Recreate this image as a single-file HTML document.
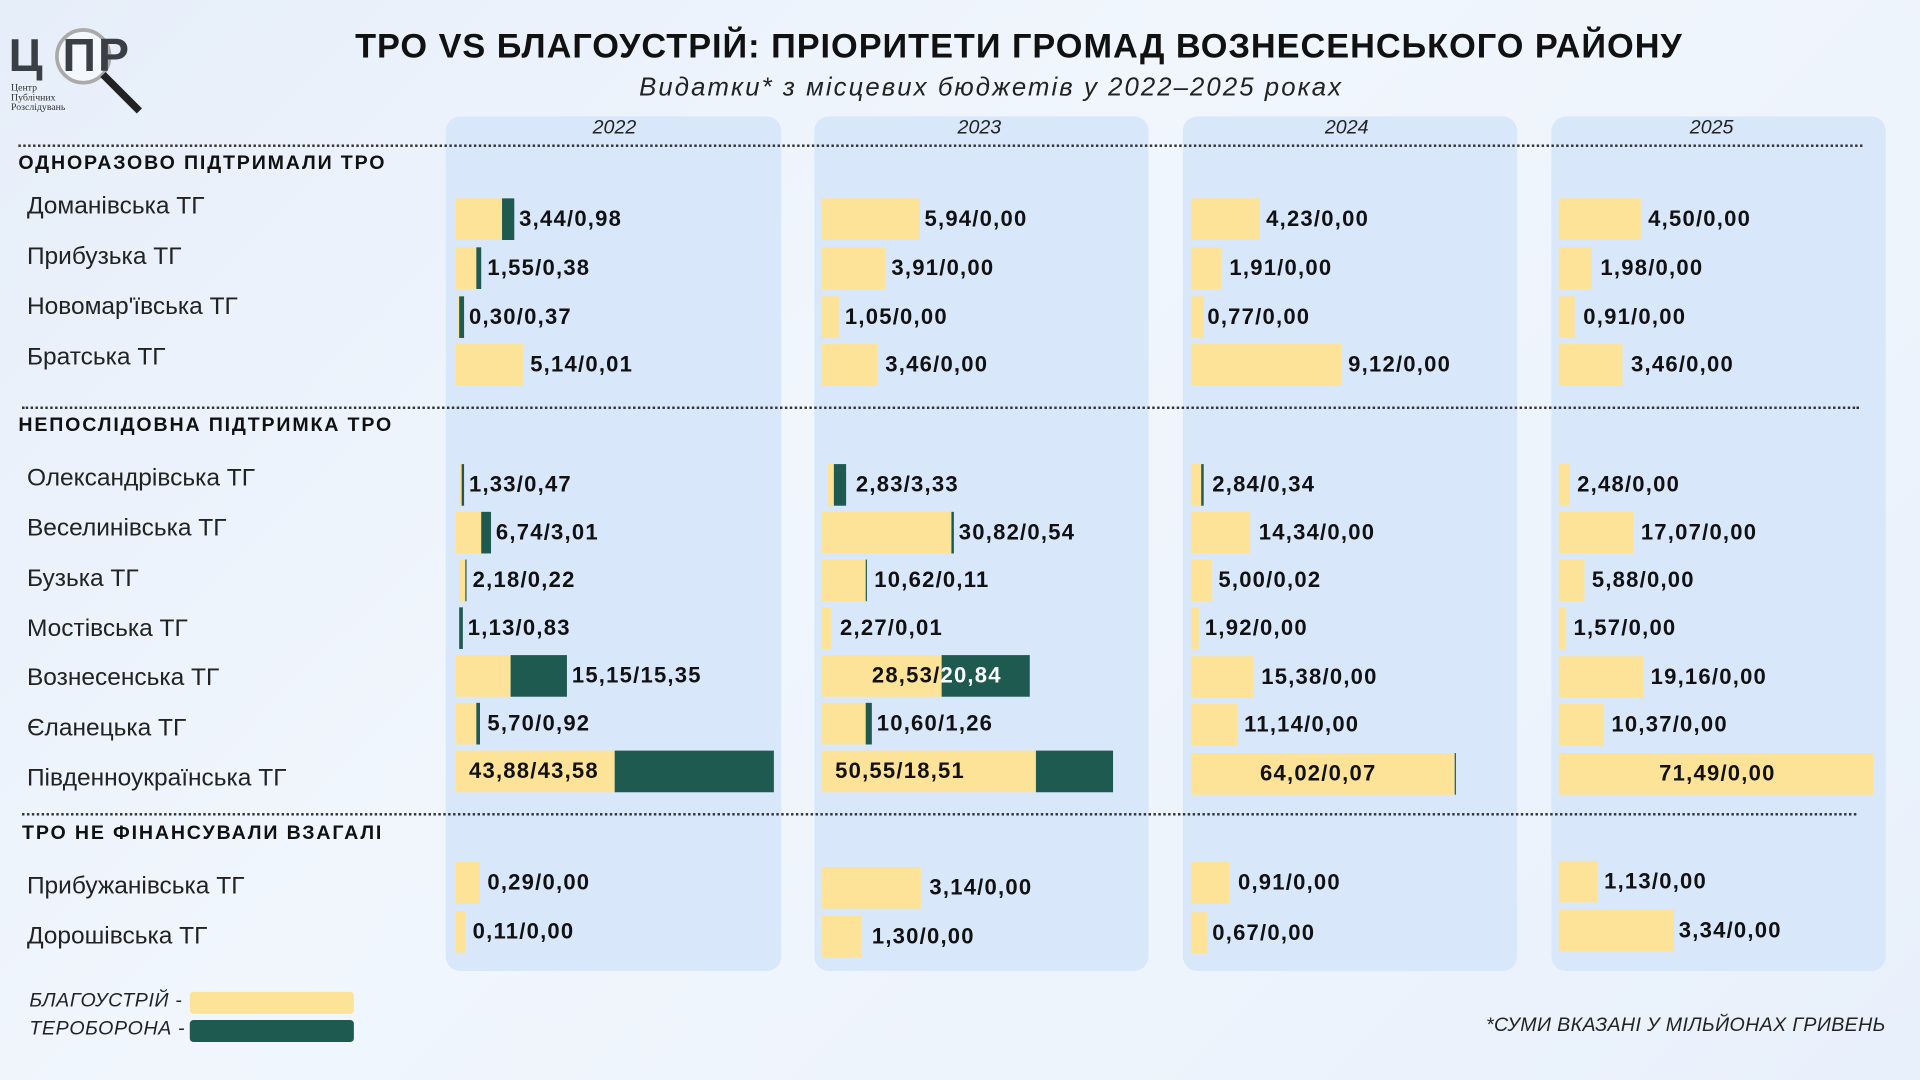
<!DOCTYPE html>
<html><head><meta charset="utf-8">
<style>
html,body{margin:0;padding:0;width:1920px;height:1080px;overflow:hidden;background:#eef4fc;}
#w{position:absolute;left:0;top:0;width:1568px;height:882px;transform:scale(1.22449);transform-origin:0 0;background:linear-gradient(135deg,#e6eef9 0%,#f1f6fd 40%,#eef4fc 70%,#e8f0fb 100%);font-family:"Liberation Sans","DejaVu Sans",sans-serif;overflow:hidden;}
.a{position:absolute;white-space:nowrap;}
.panel{position:absolute;top:95px;height:698px;background:#d9e7fb;border-radius:12px;}
.yr{position:absolute;top:96px;font-style:italic;font-size:16px;color:#222;}
.dot{position:absolute;height:0;border-top:2px dotted #333;}
.sec{position:absolute;font-weight:bold;font-size:16px;letter-spacing:1.5px;color:#111;}
.nm{position:absolute;left:22px;font-size:20px;color:#222;transform:translateY(-50%);}
.y{position:absolute;background:#fde397;height:34px;}
.g{position:absolute;background:#1f5a50;height:34px;}
.v{position:absolute;font-weight:bold;font-size:18px;color:#111;transform:translateY(-50%);letter-spacing:1px;}
.lg{position:absolute;top:25px;font-size:38px;font-weight:bold;color:#3a3f46;}
</style></head><body><div id="w">
<div class="a" style="left:45px;top:23px;width:40px;height:40px;border:3px solid #aaa;border-radius:50%;background:rgba(255,255,255,.55)"></div>
<div class="lg" style="left:7px">Ц</div>
<div class="lg" style="left:51px">П</div>
<div class="lg" style="left:80px">Р</div>
<div class="a" style="left:82px;top:63px;width:6px;height:42px;background:#222;transform:rotate(-45deg);transform-origin:top left"></div>
<div class="a" style="left:9px;top:68px;font-size:8px;line-height:8px;color:#333;font-family:'Liberation Serif',serif">Центр<br>Публічних<br>Розслідувань</div>
<div class="a" style="left:290px;top:22px;font-size:28px;font-weight:bold;letter-spacing:0.8px;color:#111;">ТРО VS БЛАГОУСТРІЙ: ПРІОРИТЕТИ ГРОМАД ВОЗНЕСЕНСЬКОГО РАЙОНУ</div>
<div class="a" style="left:522px;top:60px;font-size:21px;font-style:italic;letter-spacing:1.7px;color:#222;">Видатки* з місцевих бюджетів у 2022–2025 роках</div>
<div class="panel" style="left:364px;width:274px"></div>
<div class="panel" style="left:665px;width:273px"></div>
<div class="panel" style="left:966px;width:273px"></div>
<div class="panel" style="left:1267px;width:273px"></div>
<div class="yr" style="left:484px">2022</div><div class="yr" style="left:782px">2023</div><div class="yr" style="left:1082px">2024</div><div class="yr" style="left:1380px">2025</div>
<div class="dot" style="left:15px;width:1506px;top:118px"></div>
<div class="dot" style="left:18px;width:1500px;top:332px"></div>
<div class="dot" style="left:18px;width:1498px;top:664px"></div>
<div class="sec" style="left:15px;top:125px">ОДНОРАЗОВО ПІДТРИМАЛИ ТРО</div>
<div class="sec" style="left:15px;top:339px">НЕПОСЛІДОВНА ПІДТРИМКА ТРО</div>
<div class="sec" style="left:18px;top:672px">ТРО НЕ ФІНАНСУВАЛИ ВЗАГАЛІ</div>
<div id="c"></div>
<div class="a" style="left:24px;top:809px;font-style:italic;font-size:16px;letter-spacing:.5px;color:#222">БЛАГОУСТРІЙ -</div>
<div class="a" style="left:155px;top:810px;width:134px;height:18px;background:#fde397;border-radius:3px"></div>
<div class="a" style="left:24px;top:832px;font-style:italic;font-size:16px;letter-spacing:.5px;color:#222">ТЕРОБОРОНА -</div>
<div class="a" style="left:155px;top:833px;width:134px;height:18px;background:#1f5a50;border-radius:3px"></div>
<div class="a" style="right:28px;top:829px;font-style:italic;font-size:16px;letter-spacing:.3px;color:#222">*СУМИ ВКАЗАНІ У МІЛЬЙОНАХ ГРИВЕНЬ</div>
</div>
<script>
var names=[["Доманівська ТГ",169],["Прибузька ТГ",210],["Новомар'ївська ТГ",251],["Братська ТГ",292],["Олександрівська ТГ",391],["Веселинівська ТГ",432],["Бузька ТГ",473],["Мостівська ТГ",514],["Вознесенська ТГ",554],["Єланецька ТГ",595],["Південноукраїнська ТГ",636],["Прибужанівська ТГ",724],["Дорошівська ТГ",765]];
var bars=[
[179,372,410,410,420,424,"3,44/0,98"],[179,671,751,0,0,755,"5,94/0,00"],[179,973,1029,0,0,1034,"4,23/0,00"],[179,1273,1340,0,0,1346,"4,50/0,00"],
[219,372,389,389,393,398,"1,55/0,38"],[219,671,723,0,0,728,"3,91/0,00"],[219,973,998,0,0,1004,"1,91/0,00"],[219,1273,1300,0,0,1307,"1,98/0,00"],
[259,374,375,375,379,383,"0,30/0,37"],[259,671,685,0,0,690,"1,05/0,00"],[259,973,983,0,0,986,"0,77/0,00"],[259,1273,1286,0,0,1293,"0,91/0,00"],
[298,372,427,0,0,433,"5,14/0,01"],[298,671,717,0,0,723,"3,46/0,00"],[298,973,1096,0,0,1101,"9,12/0,00"],[298,1273,1325,0,0,1332,"3,46/0,00"],
[396,375,377,377,379,383,"1,33/0,47"],[396,676,681,681,691,699,"2,83/3,33"],[396,973,981,981,983,990,"2,84/0,34"],[396,1273,1282,0,0,1288,"2,48/0,00"],
[435,372,393,393,401,405,"6,74/3,01"],[435,671,777,777,779,783,"30,82/0,54"],[435,973,1021,0,0,1028,"14,34/0,00"],[435,1273,1334,0,0,1340,"17,07/0,00"],
[474,375,380,380,381,386,"2,18/0,22"],[474,671,707,707,708,714,"10,62/0,11"],[474,973,990,0,0,995,"5,00/0,02"],[474,1273,1294,0,0,1300,"5,88/0,00"],
[513,375,375,375,378,382,"1,13/0,83"],[513,671,679,0,0,686,"2,27/0,01"],[513,973,979,0,0,984,"1,92/0,00"],[513,1273,1279,0,0,1285,"1,57/0,00"],
[552,372,417,417,463,467,"15,15/15,35"],[552,671,769,769,841,712,"28,53/<span style='color:#fff'>20,84</span>"],[553,973,1024,0,0,1030,"15,38/0,00"],[553,1273,1342,0,0,1348,"19,16/0,00"],
[591,372,389,389,392,398,"5,70/0,92"],[591,671,707,707,712,716,"10,60/1,26"],[592,973,1011,0,0,1016,"11,14/0,00"],[592,1273,1310,0,0,1316,"10,37/0,00"],
[630,372,502,502,632,383,"43,88/43,58"],[630,671,846,846,909,682,"50,55/18,51"],[632,973,1188,1188,1189,1029,"64,02/0,07"],[632,1273,1530,0,0,1355,"71,49/0,00"],
[721,372,392,0,0,398,"0,29/0,00"],[725,671,752,0,0,759,"3,14/0,00"],[721,973,1004,0,0,1011,"0,91/0,00"],[720,1273,1305,0,0,1310,"1,13/0,00"],
[761,372,380,0,0,386,"0,11/0,00"],[765,671,704,0,0,712,"1,30/0,00"],[762,973,986,0,0,990,"0,67/0,00"],[760,1273,1367,0,0,1371,"3,34/0,00"]];
var h="";
names.forEach(function(n){h+='<div class="nm" style="top:'+n[1]+'px">'+n[0]+'</div>';});
bars.forEach(function(b){var t=b[0]-17;
if(b[2]>b[1])h+='<div class="y" style="left:'+b[1]+'px;top:'+t+'px;width:'+(b[2]-b[1])+'px"></div>';
if(b[4]>b[3])h+='<div class="g" style="left:'+b[3]+'px;top:'+t+'px;width:'+(b[4]-b[3])+'px"></div>';
h+='<div class="v" style="left:'+b[5]+'px;top:'+b[0]+'px">'+b[6]+'</div>';});
document.getElementById("c").innerHTML=h;
</script>
</body></html>
